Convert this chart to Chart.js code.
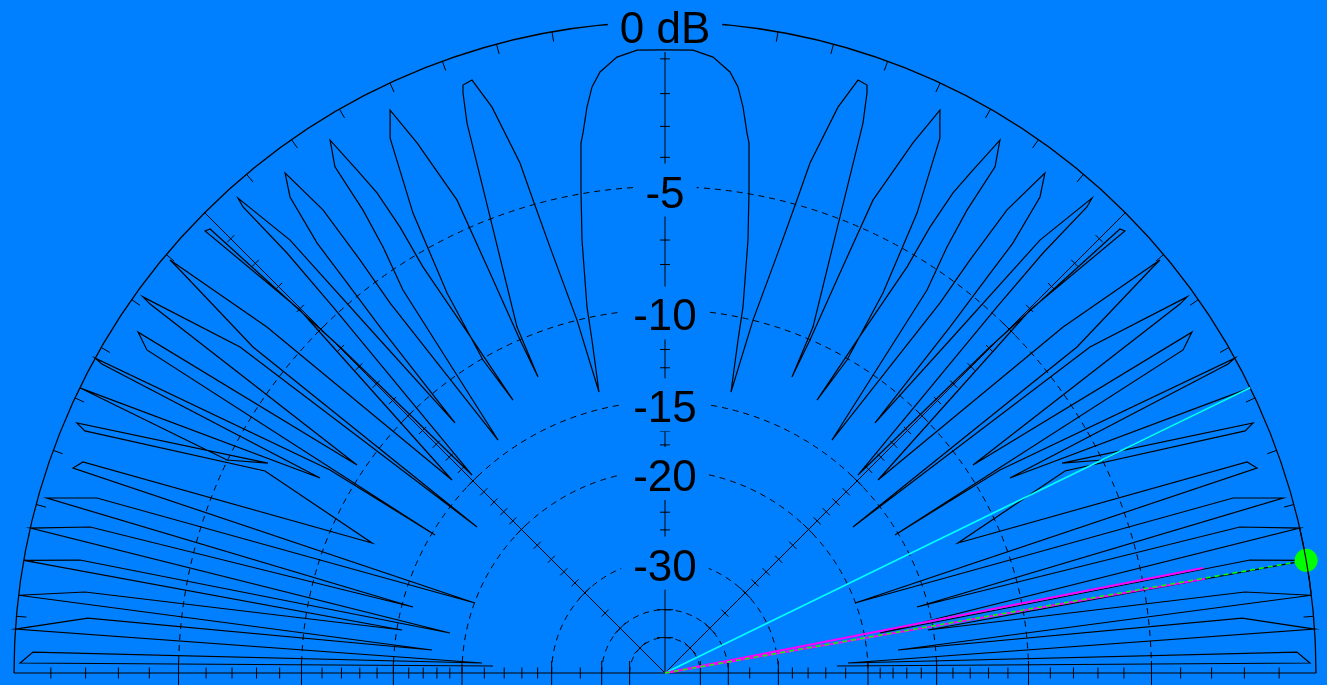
<!DOCTYPE html>
<html><head><meta charset="utf-8">
<script src="https://cdn.jsdelivr.net/npm/chart.js@4.4.1/dist/chart.umd.min.js"></script>
<style>html,body{margin:0;padding:0;background:#0080ff;overflow:hidden}canvas{display:block}</style>
</head><body>
<canvas id="c" width="1327" height="685"></canvas>
<script>
// ---- data: pattern vertices [elevation angle (deg), gain (dB)] ----
const patternLeft = [
[177.67,-22.83],[179.11,-0.16],[178.1,-0.50],
[176.87,-21.75],[176.13,0],[174.56,-1.99],
[174.36,-17.55],[173.14,0],[172.05,-1.82],
[170.71,-15.33],[170.03,0],[169.07,-1.52],
[169.46,-18.72],[167.14,0],[165.75,-1.60],
[165.32,-15.72],[164.19,-0.23],[162.88,-1.56],
[159.78,-20.04],[160.9,-0.66],[160.07,-0.86],
[156.07,-12.16],[153.21,-6.41],[157.35,-0.60],[156.97,-0.32],[152.13,-6.37],
[154.07,-4.98],[154.02,0],
[150.52,-8.52],[151.24,-0.23],[151.07,0],[148.79,-8.72],
[149.04,-15.22],[148.05,-1.10],[147.1,-0.63],
[145.97,-9.62],[144.38,-0.47],[144.23,-0.20],[142.51,-3.35],
[142.17,-17.27],[141.65,-3.68],[140.25,-0.47],[140.16,-0.17],[139.0,-3.61],
[137.82,-14.03],[135.16,-4.03],[136.14,-0.35],[135.7,-0.41],[134.91,-5.95],
[134.27,-14.70],[132.21,-4.73],[131.99,-2.43],[132.16,-0.60],[131.96,-0.33],[130.9,-2.20],[130.56,-6.79],
[130.03,-11.84],[129.48,-6.40],[129.21,-4.59],[128.98,-2.80],[128.23,-1.23],[127.23,-0.62],[126.45,-2.11],[126.44,-4.07],[126.62,-5.92],
[125.63,-14.08],[124.38,-5.81],[123.5,-4.16],[123.12,-2.81],[123.11,-1.28],[122.15,-0.58],[121.48,-1.70],[120.96,-2.59],[120.72,-3.90],[120.8,-5.49],[120.06,-8.83],
[119.11,-12.60],[120.18,-10.07],[119.84,-6.80],[118.72,-3.71],[117.2,-1.36],[116.03,-0.66],[115.07,-1.83],[113.74,-3.97],[113.63,-6.86],[113.53,-10.02],
[113.22,-12.08],[113.16,-9.41],[110.99,-4.93],[109.8,-1.85],[109.2,-1.0],[108.96,-0.79],[108.03,-0.74],[107.0,-1.64],[105.87,-3.52],[105.59,-4.84],[105.11,-6.68],[104.0,-9.99],
[103.22,-13.96],[102.37,-11.10],[102.03,-9.50],[100.85,-6.69],[99.87,-4.87],[99.01,-3.32],[98.63,-3.01],[97.85,-2.24],[97.1,-1.67],[96.17,-1.27],[94.46,-0.90],[92.57,-0.74]
];
const patternRight = [
[90,-0.75],[87.43,-0.74],[85.54,-0.90],[83.83,-1.27],[82.9,-1.67],[82.15,-2.24],[81.37,-3.01],[80.99,-3.32],[80.13,-4.87],[79.15,-6.69],[77.97,-9.50],[77.63,-11.10],[76.78,-13.96],
[76.0,-9.99],[74.89,-6.68],[74.41,-4.84],[74.13,-3.52],[73.0,-1.64],[71.97,-0.74],[71.04,-0.79],[70.8,-1.0],[70.2,-1.85],[69.01,-4.93],[66.84,-9.41],[66.78,-12.08],
[66.47,-10.02],[66.37,-6.86],[66.26,-3.97],[64.93,-1.83],[63.97,-0.66],[62.8,-1.36],[61.28,-3.71],[60.16,-6.80],[59.82,-10.07],[60.89,-12.60],
[59.94,-8.83],[59.2,-5.49],[59.28,-3.90],[59.04,-2.59],[58.52,-1.70],[57.85,-0.58],[56.89,-1.28],[56.88,-2.81],[56.5,-4.16],[55.62,-5.81],[54.37,-14.08],
[53.38,-5.92],[53.56,-4.07],[53.55,-2.11],[52.77,-0.62],[51.77,-1.23],[51.02,-2.80],[50.79,-4.59],[50.52,-6.40],[49.97,-11.84],
[49.44,-6.79],[49.1,-2.20],[48.04,-0.33],[47.84,-0.60],[48.01,-2.43],[47.79,-4.73],[45.73,-14.70],
[45.09,-5.95],[44.3,-0.41],[43.86,-0.35],[44.84,-4.03],[42.18,-14.03],
[41.0,-3.61],[39.84,-0.17],[39.75,-0.47],[38.35,-3.68],[37.83,-17.27],
[37.49,-3.35],[35.77,-0.20],[35.62,-0.47],[34.03,-9.62],
[32.9,-0.63],[31.95,-1.10],[30.96,-15.22],
[31.21,-8.72],[28.93,0],[28.76,-0.23],[29.48,-8.52],
[25.98,0],[25.93,-4.98],
[27.87,-6.37],[23.03,-0.32],[22.65,-0.60],[26.79,-6.41],[23.93,-12.16],
[19.93,-0.86],[19.1,-0.66],[20.22,-20.04],
[17.12,-1.56],[15.81,-0.23],[14.68,-15.72],
[14.25,-1.60],[12.86,0],[10.54,-18.72],
[10.93,-1.52],[9.97,0],[9.29,-15.33],
[7.95,-1.82],[6.86,0],[5.64,-17.55],
[5.44,-1.99],[3.87,0],[3.13,-21.75],
[1.9,-0.50],[0.89,-0.16],[2.33,-22.83]
];
// cursor / marker lines
const cursorAngle = 9.97, cursorGain = 0;
const beamAngles = [11.05, 9.9], beamGain = -2.95;
const refAngle = 25.98, refGain = 0;
// grid
const ringDb = [-5,-10,-15,-20,-30,-40,-50];
const labelDb = [0,-5,-10,-15,-20,-30];
const labelText = ['0 dB','-5','-10','-15','-20','-30'];
const minorTickDb = [-1,-2,-3,-4,-6,-7,-8,-9,-11,-12,-13,-14,-16,-17,-18,-19,-22,-24,-26,-28,-35];
const majorTickDb = [-5,-10,-15,-20,-30,-40,-50];
const spokeAngles = [0,45,90,135,180];

const BG = '#0080ff';
const rho = db => Math.pow(0.89, -db/2);   // ARRL log scale
const toXY = (a, db) => ({x: rho(db)*Math.cos(a*Math.PI/180), y: rho(db)*Math.sin(a*Math.PI/180)});

const gridPlugin = {
  id: 'polarGrid',
  beforeDraw(chart){
    const c = chart.ctx; c.save(); c.fillStyle = BG; c.fillRect(0,0,chart.width,chart.height); c.restore();
  },
  beforeDatasetsDraw(chart){
    const c = chart.ctx, sx = chart.scales.x, sy = chart.scales.y;
    const cx = sx.getPixelForValue(0), cy = sy.getPixelForValue(0);
    const R = sx.getPixelForValue(1) - cx;
    c.save();
    c.strokeStyle = '#000'; c.lineWidth = 1;
    c.setLineDash([6,5]);
    ringDb.forEach(db => { c.beginPath(); c.arc(cx, cy, R*rho(db), Math.PI, 2*Math.PI); c.stroke(); });
    c.setLineDash([]);
    c.lineWidth = 1.3;
    c.beginPath(); c.arc(cx, cy, R, Math.PI, 2*Math.PI); c.stroke();
    c.lineWidth = 1;
    for (let a = 5; a < 180; a += 5) {
      const t = a*Math.PI/180, ux = Math.cos(t), uy = -Math.sin(t);
      c.beginPath(); c.moveTo(cx+R*ux, cy+R*uy); c.lineTo(cx+(R-10)*ux, cy+(R-10)*uy); c.stroke();
    }
    // spokes incl. baseline
    spokeAngles.forEach(a => {
      const t = a*Math.PI/180, ux = Math.cos(t), uy = -Math.sin(t);
      c.beginPath(); c.moveTo(cx, cy); c.lineTo(cx+R*ux, cy+R*uy); c.stroke();
      const nx = -uy, ny = ux;
      const tick = (db, h) => {
        const r = R*rho(db), px = cx+r*ux, py = cy+r*uy;
        c.beginPath(); c.moveTo(px-h*nx, py-h*ny); c.lineTo(px+h*nx, py+h*ny); c.stroke();
      };
      const base = (a === 0 || a === 180);
      minorTickDb.forEach(db => tick(db, base ? 5.5 : 5));
      majorTickDb.forEach(db => tick(db, base ? 12 : 8));
    });
    // labels with background boxes
    c.font = '44px "Liberation Sans", Arial, sans-serif';
    c.textAlign = 'center'; c.textBaseline = 'alphabetic';
    labelDb.forEach((db, i) => {
      const yb = cy - R*rho(db) + 21;
      const w = c.measureText(labelText[i]).width;
      c.fillStyle = BG; c.fillRect(cx - w/2 - 12, yb - 44, w + 24, 53);
      c.fillStyle = '#000'; c.fillText(labelText[i], cx, yb);
    });
    c.restore();
  },
  afterDatasetsDraw(chart){
    const c = chart.ctx, sx = chart.scales.x, sy = chart.scales.y;
    const cx = sx.getPixelForValue(0), cy = sy.getPixelForValue(0);
    const R = sx.getPixelForValue(1) - cx;
    c.save(); c.strokeStyle = '#000'; c.lineWidth = 1.2;
    const a0 = -(cursorAngle+3)*Math.PI/180, a1 = -(cursorAngle-3)*Math.PI/180;
    c.beginPath(); c.arc(cx, cy, R, a0, a1); c.stroke();
    c.restore();
  }
};

const W = 1327, H = 685, CX = 665, CY = 673, RPX = 651;
const xMin = -CX/RPX, xMax = (W-CX)/RPX, yMax = CY/RPX, yMin = -(H-CY)/RPX;

new Chart(document.getElementById('c'), {
  type: 'scatter',
  data: { datasets: [
    { label:'pattern', data: patternLeft.concat(patternRight).map(p => toXY(p[0], p[1])),
      showLine:true, borderColor:'#000', borderWidth:1.2, pointRadius:0, tension:0, fill:false, clip:false, order:5 },
    { label:'ref', data:[toXY(refAngle,-Infinity), toXY(refAngle,refGain)],
      showLine:true, borderColor:'#00ffff', borderWidth:1.6, pointRadius:0, clip:false, order:4 },
    { label:'beam1', data:[toXY(beamAngles[0],-Infinity), toXY(beamAngles[0],beamGain)],
      showLine:true, borderColor:'#ff00ff', borderWidth:2, pointRadius:0, clip:false, order:3 },
    { label:'beam2', data:[toXY(beamAngles[1],-Infinity), toXY(beamAngles[1],beamGain)],
      showLine:true, borderColor:'#ff00ff', borderWidth:2, pointRadius:0, clip:false, order:3 },
    { label:'cursor', data:[toXY(cursorAngle,-Infinity), toXY(cursorAngle,cursorGain)],
      showLine:true, borderColor:'#00ff00', borderWidth:1.6, borderDash:[5,4], pointRadius:0, clip:false, order:2 },
    { label:'dot', data:[toXY(cursorAngle,cursorGain)],
      showLine:false, pointRadius:11.5, pointBackgroundColor:'#00ff00', pointBorderWidth:0, clip:false, order:1 }
  ]},
  options: {
    responsive:false, animation:false, devicePixelRatio:1,
    layout:{ padding:0, autoPadding:false },
    events:[],
    plugins:{ legend:{display:false}, tooltip:{enabled:false} },
    scales:{
      x:{ type:'linear', min:xMin, max:xMax, display:false },
      y:{ type:'linear', min:yMin, max:yMax, display:false }
    }
  },
  plugins:[gridPlugin]
});
</script>
</body></html>
